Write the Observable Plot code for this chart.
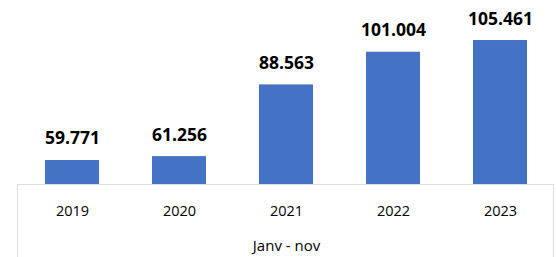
<!DOCTYPE html>
<html>
<head>
<meta charset="utf-8">
<script src="https://cdn.jsdelivr.net/npm/d3@7"></script>
<script src="https://cdn.jsdelivr.net/npm/@observablehq/plot@0.6"></script>
<style>
  html, body { margin: 0; padding: 0; background: #fff; }
  #wrap { position: relative; width: 557px; height: 257px; overflow: hidden; }
  #box { position: absolute; left: 17px; top: 184px; width: 537px; height: 90px;
         border: 1px solid #d9dde4; box-sizing: border-box; pointer-events: none; }
  svg { font-family: "Open Sans", sans-serif; }
</style>
</head>
<body>
<div id="wrap"><div id="box"></div></div>
<script>
const years = ["2019", "2020", "2021", "2022", "2023"];
const values = [59.771, 61.256, 88.563, 101.004, 105.461];
const valueLabels = ["59.771", "61.256", "88.563", "101.004", "105.461"];
const periodLabel = "Janv - nov";

const data = years.map((y, i) => ({year: y, value: values[i], label: valueLabels[i]}));
const yMin = 50.63, yMax = 120.7;

const chart = Plot.plot({
  width: 557,
  height: 257,
  marginTop: 0,
  marginBottom: 73,
  marginLeft: 17,
  marginRight: 2,
  style: {fontFamily: "'Open Sans', sans-serif", background: "transparent"},
  x: {domain: years, paddingInner: 0.5, paddingOuter: 0.25, label: null},
  y: {domain: [yMin, yMax], axis: null},
  marks: [
    Plot.barY(data, {x: "year", y1: () => yMin, y2: "value", fill: "#4472C4"}),
    Plot.text(data, {x: "year", y: "value", text: "label", lineAnchor: "bottom", dy: -16,
      fontSize: 17.5, fontWeight: "bold", fill: "#000"}),
    Plot.axisX({tickSize: 0, tickPadding: 21, fontSize: 14.5, fill: "#000", label: null}),
    Plot.text([periodLabel], {frameAnchor: "bottom", text: d => d, dy: 62, lineAnchor: "middle",
      fontSize: 15, fill: "#000"})
  ]
});
document.getElementById("wrap").prepend(chart);
</script>
</body>
</html>
